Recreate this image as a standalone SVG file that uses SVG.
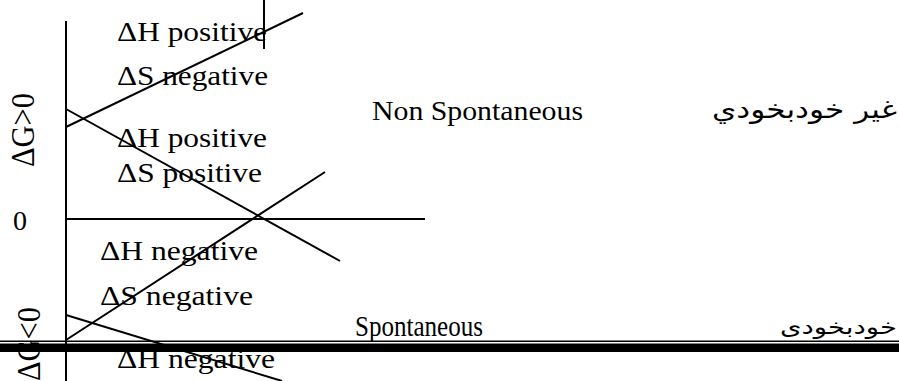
<svg xmlns="http://www.w3.org/2000/svg" width="899" height="381" viewBox="0 0 899 381">
<style>
.t{font-family:"Liberation Serif","Times New Roman",serif;font-size:27px;fill:#000}
.v{font-family:"Liberation Serif","Times New Roman",serif;font-size:33px;fill:#000}
.a{font-family:"DejaVu Sans","Noto Sans",sans-serif;font-size:25px;fill:#000}
.a2{font-family:"DejaVu Sans","Noto Sans",sans-serif;font-size:21px;fill:#000}
.ln{stroke:#000;stroke-width:2;fill:none}
</style>
<rect width="899" height="381" fill="#fff"/>
<g id="connectors">
<line class="ln" x1="66" y1="21" x2="66" y2="381"/>
<line class="ln" x1="264" y1="0" x2="264" y2="49"/>
<line class="ln" x1="66" y1="219" x2="425" y2="219"/>
<line class="ln" x1="66" y1="127" x2="303" y2="13"/>
<line class="ln" x1="66" y1="109" x2="340" y2="261"/>
<line class="ln" x1="66" y1="340" x2="325" y2="172"/>
<line class="ln" x1="66" y1="315" x2="282" y2="381"/>
</g>
<g id="label-dg-pos"><text class="v" transform="translate(34,167) rotate(-90)" textLength="74" lengthAdjust="spacingAndGlyphs">ΔG&gt;0</text></g>
<g id="label-dg-neg"><text class="v" transform="translate(40,381) rotate(-90)" textLength="74" lengthAdjust="spacingAndGlyphs">ΔG&lt;0</text></g>
<g id="label-zero"><text class="t" x="13" y="230" textLength="14" lengthAdjust="spacingAndGlyphs">0</text></g>
<g id="node-hpos-sneg">
<text class="t" x="117" y="41" textLength="150" lengthAdjust="spacingAndGlyphs">ΔH positive</text>
<text class="t" x="117" y="85" textLength="151" lengthAdjust="spacingAndGlyphs">ΔS negative</text>
</g>
<g id="node-hpos-spos">
<text class="t" x="117" y="147" textLength="150" lengthAdjust="spacingAndGlyphs">ΔH positive</text>
<text class="t" x="117" y="182" textLength="145" lengthAdjust="spacingAndGlyphs">ΔS positive</text>
</g>
<g id="node-hneg-sneg">
<text class="t" x="100" y="260" textLength="158" lengthAdjust="spacingAndGlyphs">ΔH negative</text>
<text class="t" x="100" y="305" textLength="153" lengthAdjust="spacingAndGlyphs">ΔS negative</text>
</g>
<g id="node-hneg">
<text class="t" x="117" y="368" textLength="158" lengthAdjust="spacingAndGlyphs">ΔH negative</text>
</g>
<g id="node-nonspont">
<text class="t" x="372" y="120" textLength="211" lengthAdjust="spacingAndGlyphs">Non Spontaneous</text>
<text class="a" x="712" y="118" textLength="185" lengthAdjust="spacingAndGlyphs">غير خودبخودي</text>
</g>
<g id="node-spont">
<text class="t" x="355" y="336" textLength="128" lengthAdjust="spacingAndGlyphs" style="font-size:29px">Spontaneous</text>
<text class="a2" x="780" y="334" textLength="117" lengthAdjust="spacingAndGlyphs">خودبخودی</text>
</g>
<g id="baseline-bars">
<rect x="0" y="340.5" width="899" height="1.5" fill="#000"/>
<rect x="0" y="343.5" width="899" height="8.5" fill="#000"/>
</g>
</svg>
